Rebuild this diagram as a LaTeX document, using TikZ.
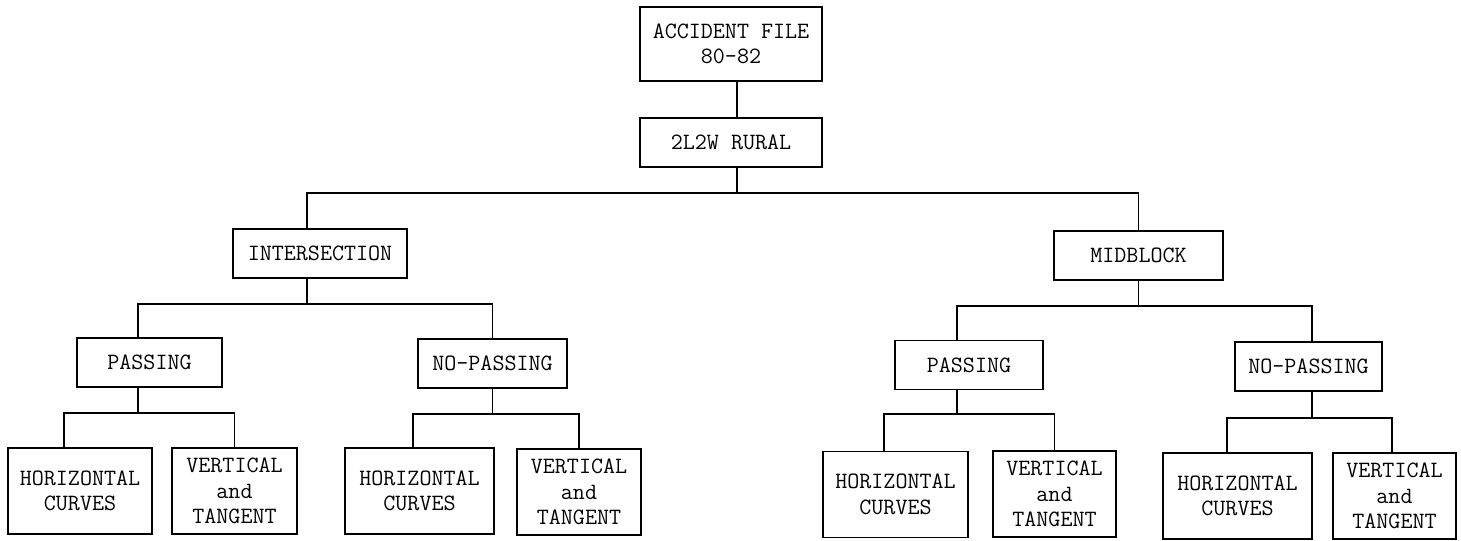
\documentclass[tikz,border=0pt]{standalone}
\usetikzlibrary{positioning, calc}

\tikzset{
    box/.style={draw, line width=1.1pt, inner sep=1pt, align=center, font=\ttfamily\fontsize{13.3}{14.5}\selectfont},
    lev/.style={box, minimum height=0.98cm},
    leaf/.style={box, minimum height=1.72cm},
    link/.style={line width=1.1pt}
}

\begin{document}
\begin{tikzpicture}[x=0.02cm, y=-0.02cm]
        \useasboundingbox (0,0) rectangle (1461,541);
        %riquadri in alto
        \node[box, minimum width=3.64cm, minimum height=1.48cm] (acc) at (731,44) {ACCIDENT FILE\\80-82};
        \node[lev, minimum width=3.64cm] (rur) at (731,142.5) {2L2W RURAL};
        %secondo livello
        \node[lev, minimum width=3.48cm] (inter) at (320,253.5) {INTERSECTION};
        \node[lev, minimum width=3.38cm] (mid) at (1138.5,255.5) {MIDBLOCK};
        %terzo livello
        \node[lev, minimum width=2.9cm] (passL) at (149.5,362.5) {PASSING};
        \node[lev, minimum width=2.98cm] (nopL) at (492.5,363.5) {NO-PASSING};
        \node[lev, minimum width=2.96cm] (passR) at (969,365) {PASSING};
        \node[lev, minimum width=2.94cm] (nopR) at (1308.5,366.5) {NO-PASSING};
        %foglie
        \node[leaf, minimum width=2.88cm] (hc1) at (80,491) {HORIZONTAL\\CURVES};
        \node[leaf, minimum width=2.5cm] (vt1) at (234.5,491) {VERTICAL\\and\\TANGENT};
        \node[leaf, minimum width=2.98cm] (hc2) at (419.5,491) {HORIZONTAL\\CURVES};
        \node[leaf, minimum width=2.48cm] (vt2) at (579,492) {VERTICAL\\and\\TANGENT};
        \node[leaf, minimum width=2.9cm] (hc3) at (895.5,494.5) {HORIZONTAL\\CURVES};
        \node[leaf, minimum width=2.46cm] (vt3) at (1054.5,494) {VERTICAL\\and\\TANGENT};
        \node[leaf, minimum width=2.98cm] (hc4) at (1237.5,496) {HORIZONTAL\\CURVES};
        \node[leaf, minimum width=2.46cm] (vt4) at (1394.5,496) {VERTICAL\\and\\TANGENT};
        %collegamenti
        \draw[link] ([xshift=0.12cm]acc.south) -- ([xshift=0.12cm]rur.north);
        \draw[link] ([xshift=0.12cm]rur.south) -- ++(0,25.5) -| ([xshift=-0.26cm]inter.north);
        \draw[link] ([xshift=0.12cm]rur.south) -- ++(0,25.5) -| (mid.north);
        \draw[link] ([xshift=-0.26cm]inter.south) -- ++(0,25) -| ([xshift=-0.23cm]passL.north);
        \draw[link] ([xshift=-0.26cm]inter.south) -- ++(0,25) -| (nopL.north);
        \draw[link] (mid.south) -- ++(0,25) -| ([xshift=-0.24cm]passR.north);
        \draw[link] (mid.south) -- ++(0,25) -| ([xshift=0.07cm]nopR.north);
        %collegamenti alle foglie
        \draw[link] ([xshift=-0.23cm]passL.south) -- ++(0,25) -| ([xshift=-0.32cm]hc1.north);
        \draw[link] ([xshift=-0.23cm]passL.south) -- ++(0,25) -| (vt1.north);
        \draw[link] (nopL.south) -- ++(0,25) -| ([xshift=-0.13cm]hc2.north);
        \draw[link] (nopL.south) -- ++(0,25) -| (vt2.north);
        \draw[link] ([xshift=-0.24cm]passR.south) -- ++(0,24) -| ([xshift=-0.23cm]hc3.north);
        \draw[link] ([xshift=-0.24cm]passR.south) -- ++(0,24) -| (vt3.north);
        \draw[link] ([xshift=0.07cm]nopR.south) -- ++(0,26) -| ([xshift=-0.21cm]hc4.north);
        \draw[link] ([xshift=0.07cm]nopR.south) -- ++(0,26) -| ([xshift=-0.05cm]vt4.north);
    \end{tikzpicture}
\end{document}
